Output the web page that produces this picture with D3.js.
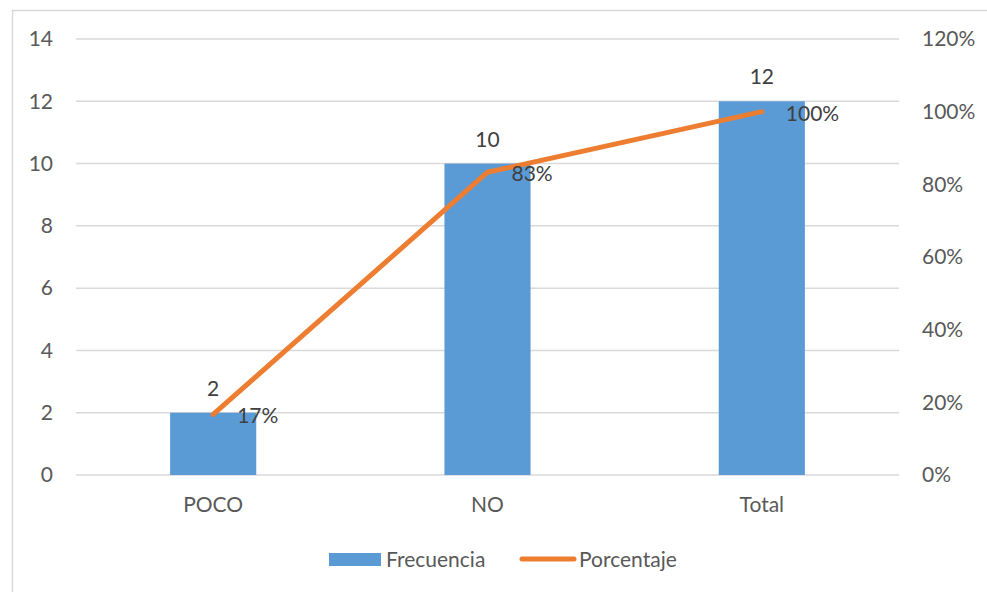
<!DOCTYPE html>
<html>
<head>
<meta charset="utf-8">
<script src="https://cdn.jsdelivr.net/npm/d3@7"></script>
<style>
  html, body { margin: 0; padding: 0; background: #fff; }
  svg { display: block; font-family: Lato, "Open Sans", sans-serif; }
</style>
</head>
<body>
<svg id="chart" width="987" height="592"></svg>
<script>
// Data
const categories = ["POCO", "NO", "Total"];
const frecuencia = [2, 10, 12];
const porcentaje = [0.1667, 0.8333, 1.0];
const porcentajeLabels = ["17%", "83%", "100%"];
const leftTicks = [0, 2, 4, 6, 8, 10, 12, 14];
const rightTicks = [0, 0.2, 0.4, 0.6, 0.8, 1.0, 1.2];

const svg = d3.select("#chart");
const m = { left: 76, right: 899, top: 39, bottom: 475 };
const textColor = "#595959";
const gridColor = "#d9d9d9";
const barColor = "#5B9BD5";
const lineColor = "#ED7D31";
const fs = "21px";
const fam = "Lato, 'Open Sans', sans-serif";

// Chart frame
svg.append("rect")
  .attr("x", 12.5).attr("y", 10.5)
  .attr("width", 1000).attr("height", 600)
  .attr("fill", "#fff").attr("stroke", gridColor).attr("stroke-width", 1.5);

const x = d3.scaleBand().domain(categories).range([m.left, m.right]).paddingInner(0.686).paddingOuter(0.343);
const yL = d3.scaleLinear().domain([0, 14]).range([m.bottom, m.top]);
const yR = d3.scaleLinear().domain([0, 1.2]).range([m.bottom, m.top]);

// Gridlines
svg.append("g").selectAll("line").data(leftTicks).join("line")
  .attr("x1", m.left).attr("x2", m.right)
  .attr("y1", d => yL(d)).attr("y2", d => yL(d))
  .attr("stroke", gridColor).attr("stroke-width", 1.5);

// Left axis
const gL = svg.append("g").attr("transform", `translate(${m.left},0)`)
  .call(d3.axisLeft(yL).tickValues(leftTicks).tickSize(0).tickPadding(23));
gL.select(".domain").remove();
gL.selectAll("text").attr("fill", textColor).style("font-size", fs).style("font-family", fam);

// Right axis
const gR = svg.append("g").attr("transform", `translate(${m.right},0)`)
  .call(d3.axisRight(yR).tickValues(rightTicks).tickSize(0).tickPadding(23).tickFormat(d3.format(".0%")));
gR.select(".domain").remove();
gR.selectAll("text").attr("fill", textColor).style("font-size", fs).style("font-family", fam);

// Bottom axis labels
const gB = svg.append("g").attr("transform", `translate(0,${m.bottom})`)
  .call(d3.axisBottom(x).tickSize(0).tickPadding(22));
gB.select(".domain").remove();
gB.selectAll("text").attr("fill", textColor).style("font-size", fs).style("font-family", fam);

// Bars
svg.append("g").selectAll("rect").data(categories).join("rect")
  .attr("x", d => x(d)).attr("width", x.bandwidth())
  .attr("y", (d, i) => yL(frecuencia[i]))
  .attr("height", (d, i) => yL(0) - yL(frecuencia[i]))
  .attr("fill", barColor);

// Bar value labels
svg.append("g").selectAll("text").data(categories).join("text")
  .attr("x", d => x(d) + x.bandwidth() / 2)
  .attr("y", (d, i) => yL(frecuencia[i]) - 17)
  .attr("text-anchor", "middle")
  .attr("fill", "#404040").style("font-size", fs)
  .text((d, i) => frecuencia[i]);

// Percentage line
const cx = d => x(d) + x.bandwidth() / 2;
const line = d3.line().x((d, i) => cx(categories[i])).y(d => yR(d));
svg.append("path").datum(porcentaje)
  .attr("d", line)
  .attr("fill", "none").attr("stroke", lineColor)
  .attr("stroke-width", 5).attr("stroke-linecap", "round").attr("stroke-linejoin", "round");

// Percentage labels
svg.append("g").selectAll("text").data(categories).join("text")
  .attr("x", d => cx(d) + 24)
  .attr("y", (d, i) => yR(porcentaje[i]) + 9)
  .attr("fill", "#404040").style("font-size", fs)
  .text((d, i) => porcentajeLabels[i]);

// Legend
const lg = svg.append("g");
lg.append("rect").attr("x", 329).attr("y", 553).attr("width", 52).attr("height", 13).attr("fill", barColor);
lg.append("text").attr("x", 386).attr("y", 567).attr("fill", textColor).style("font-size", fs).text("Frecuencia");
lg.append("line").attr("x1", 522).attr("x2", 574).attr("y1", 559).attr("y2", 559)
  .attr("stroke", lineColor).attr("stroke-width", 5).attr("stroke-linecap", "round");
lg.append("text").attr("x", 579).attr("y", 567).attr("fill", textColor).style("font-size", fs).text("Porcentaje");
</script>
</body>
</html>
